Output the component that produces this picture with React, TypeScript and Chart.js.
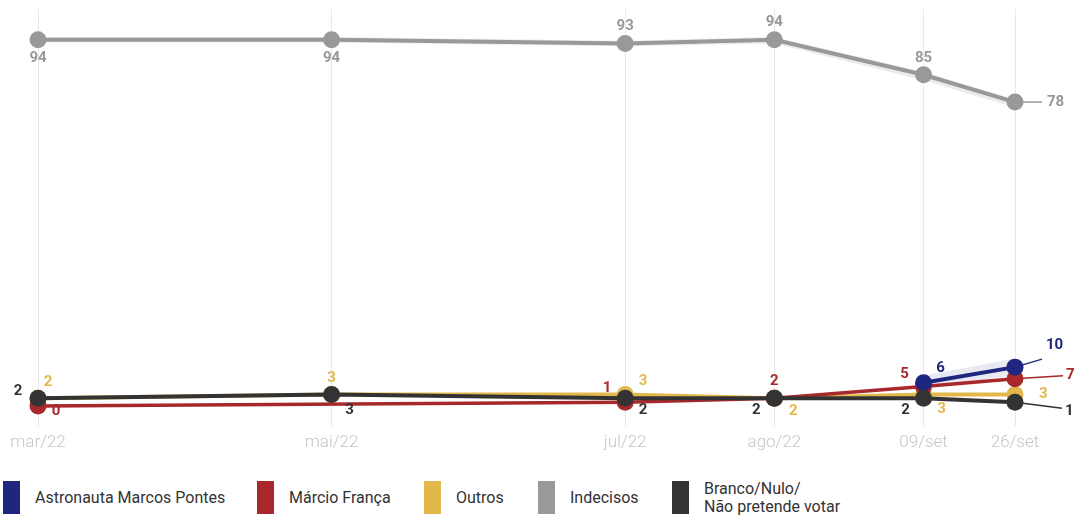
import React, { useEffect, useRef } from "react";
import { Chart, registerables } from "chart.js";

Chart.register(...registerables);

// Days since 1 Mar 2022 of each survey
const dayOffsets = [0, 61, 122, 153, 184, 203];
const tickLabels = ["mar/22", "mai/22", "jul/22", "ago/22", "09/set", "26/set"];

const astronauta = [null, null, null, null, 6, 10];
const marcio = [0, null, 1, 2, 5, 7];
const outros = [2, 3, 3, 2, 3, 3];
const indecisos = [94, 94, 93, 94, 85, 78];
const branco = [2, 3, 2, 2, 2, 1];

// margin bands
const indecisosHigh = [94.7, 94.7, 93.7, 94.7, 85.7, 78.7];
const indecisosLow = [93.3, 93.3, 92.3, 93.0, 83.6, 76.6];
const astronautaHigh = [null, null, null, null, 7.8, 12.2];
const astronautaLow = [null, null, null, null, 4.5, 8.0];

const COLORS = {
  blue: "#1e2680",
  red: "#a8282b",
  yellow: "#e2b84c",
  grey: "#999999",
  black: "#333333",
};

const pts = (vals: (number | null)[]) =>
  vals.map((v, i) => ({ x: dayOffsets[i], y: v }));

// label spec per point: [dx, dy, leaderEndDx, leaderEndDy, align]
type Spec = [number, number, number?, number?, string?] | null;
const greySpec: Spec[] = [
  [0, 19], [0, 19], [0, -17], [0, -17], [0, -17], [32, 0, 27, 0, "left"],
];
const blackSpec: Spec[] = [
  [-20, -7], [18, 16], [18, 12], [-18, 12], [-18, 12], [50, 9, 47, 6, "left"],
];
const yellowSpec: Spec[] = [
  [10, -16], [0, -16], [18, -13], [19, 13], [18, 15], [24, 0, undefined, undefined, "left"],
];
const redSpec: Spec[] = [
  [18, 5], null, [-18, -14], [0, -17], [-19, -12], [51, -4, 48, -3, "left"],
];
const blueSpec: Spec[] = [
  null, null, null, null, [17, -14], [31, -22, 27, -8, "left"],
];

const labelPlugin = {
  id: "valueLabels",
  afterDatasetsDraw(chart: any) {
    const ctx = chart.ctx;
    ctx.save();
    ctx.font = "bold 15px Roboto";
    ctx.textBaseline = "middle";
    chart.data.datasets.forEach((ds: any, i: number) => {
      const spec: Spec[] | undefined = ds.labelSpec;
      if (!spec) return;
      const meta = chart.getDatasetMeta(i);
      meta.data.forEach((el: any, j: number) => {
        const v = ds.data[j].y;
        const s = spec[j];
        if (v == null || !s) return;
        const [dx, dy, lx, ly, align] = s;
        ctx.fillStyle = ds.borderColor;
        ctx.strokeStyle = ds.borderColor;
        if (lx !== undefined && ly !== undefined) {
          const len = Math.hypot(lx, ly);
          const sx = el.x + (lx / len) * 8;
          const sy = el.y + (ly / len) * 8;
          ctx.lineWidth = 1.5;
          ctx.beginPath();
          ctx.moveTo(sx, sy);
          ctx.lineTo(el.x + lx, el.y + ly);
          ctx.stroke();
        }
        ctx.textAlign = align || "center";
        ctx.fillText(String(v), el.x + dx, el.y + dy);
      });
    });
    ctx.restore();
  },
};

function lineDs(label: string, vals: (number | null)[], color: string, order: number, spec: Spec[], width = 4) {
  return {
    label,
    data: pts(vals),
    borderColor: color,
    backgroundColor: color,
    pointBackgroundColor: color,
    pointBorderWidth: 0,
    pointRadius: 8.5,
    borderWidth: width,
    spanGaps: true,
    fill: false,
    clip: false,
    order,
    labelSpec: spec,
  };
}

function bandDs(vals: (number | null)[], fill: any, color: string) {
  return {
    data: pts(vals),
    borderWidth: 0,
    pointRadius: 0,
    backgroundColor: color,
    borderColor: "rgba(0,0,0,0)",
    spanGaps: true,
    fill,
    clip: false,
    order: 20,
  };
}

const legendItems = [
  { label: "Astronauta Marcos Pontes", color: COLORS.blue, left: 3 },
  { label: "Márcio França", color: COLORS.red, left: 257 },
  { label: "Outros", color: COLORS.yellow, left: 424 },
  { label: "Indecisos", color: COLORS.grey, left: 538 },
  { label: "Branco/Nulo/\nNão pretende votar", color: COLORS.black, left: 672 },
];

export default function App() {
  const ref = useRef<HTMLCanvasElement | null>(null);

  useEffect(() => {
    if (!ref.current) return;
    const chart = new Chart(ref.current, {
      type: "line",
      data: {
        datasets: [
          bandDs(indecisosHigh, "+1", "rgba(190,190,190,0.3)"),
          bandDs(indecisosLow, false, "rgba(0,0,0,0)"),
          bandDs(astronautaHigh, "+1", "rgba(30,38,128,0.1)"),
          bandDs(astronautaLow, false, "rgba(0,0,0,0)"),
          lineDs("Indecisos", indecisos, COLORS.grey, 5, greySpec, 4),
          lineDs("Outros", outros, COLORS.yellow, 4, yellowSpec, 4),
          lineDs("Márcio França", marcio, COLORS.red, 3, redSpec, 3.5),
          lineDs("Astronauta Marcos Pontes", astronauta, COLORS.blue, 2, blueSpec, 4),
          lineDs("Branco/Nulo/Não pretende votar", branco, COLORS.black, 1, blackSpec, 4),
        ] as any,
      },
      options: {
        animation: false,
        responsive: true,
        maintainAspectRatio: false,
        layout: { padding: { left: 38, right: 62, top: 5, bottom: 0 } },
        plugins: {
          legend: { display: false },
          tooltip: { enabled: false },
        },
        scales: {
          x: {
            type: "linear",
            min: dayOffsets[0],
            max: dayOffsets[dayOffsets.length - 1],
            afterBuildTicks: (axis: any) => {
              axis.ticks = dayOffsets.map((v) => ({ value: v }));
            },
            grid: { color: "#e9e9e9", lineWidth: 1, drawTicks: false },
            border: { display: false },
            ticks: {
              autoSkip: false,
              maxRotation: 0,
              padding: 7,
              color: "#c6c6c6",
              font: { family: "Roboto", size: 17, weight: "300" as any },
              callback: (value: any) => {
                const idx = dayOffsets.indexOf(Number(value));
                return idx >= 0 ? tickLabels[idx] : "";
              },
            },
          },
          y: {
            display: false,
            min: -5,
            max: 102,
          },
        },
      },
      plugins: [labelPlugin],
    });
    return () => chart.destroy();
  }, []);

  return (
    <div style={{ position: "absolute", left: 0, top: 0, width: 1077, height: 515, background: "#fff", fontFamily: "Roboto, sans-serif" }}>
      <div style={{ position: "absolute", left: 0, top: 0, width: 1077, height: 460 }}>
        <canvas ref={ref} />
      </div>
      {legendItems.map((it) => (
        <div
          key={it.label}
          style={{ position: "absolute", left: it.left, top: 481, height: 33, display: "flex", alignItems: "center" }}
        >
          <div style={{ width: 17, height: 33, background: it.color, flex: "none" }} />
          <div style={{ marginLeft: 15, fontSize: 16, color: "#333", lineHeight: "18px", whiteSpace: "pre" }}>
            {it.label}
          </div>
        </div>
      ))}
    </div>
  );
}
